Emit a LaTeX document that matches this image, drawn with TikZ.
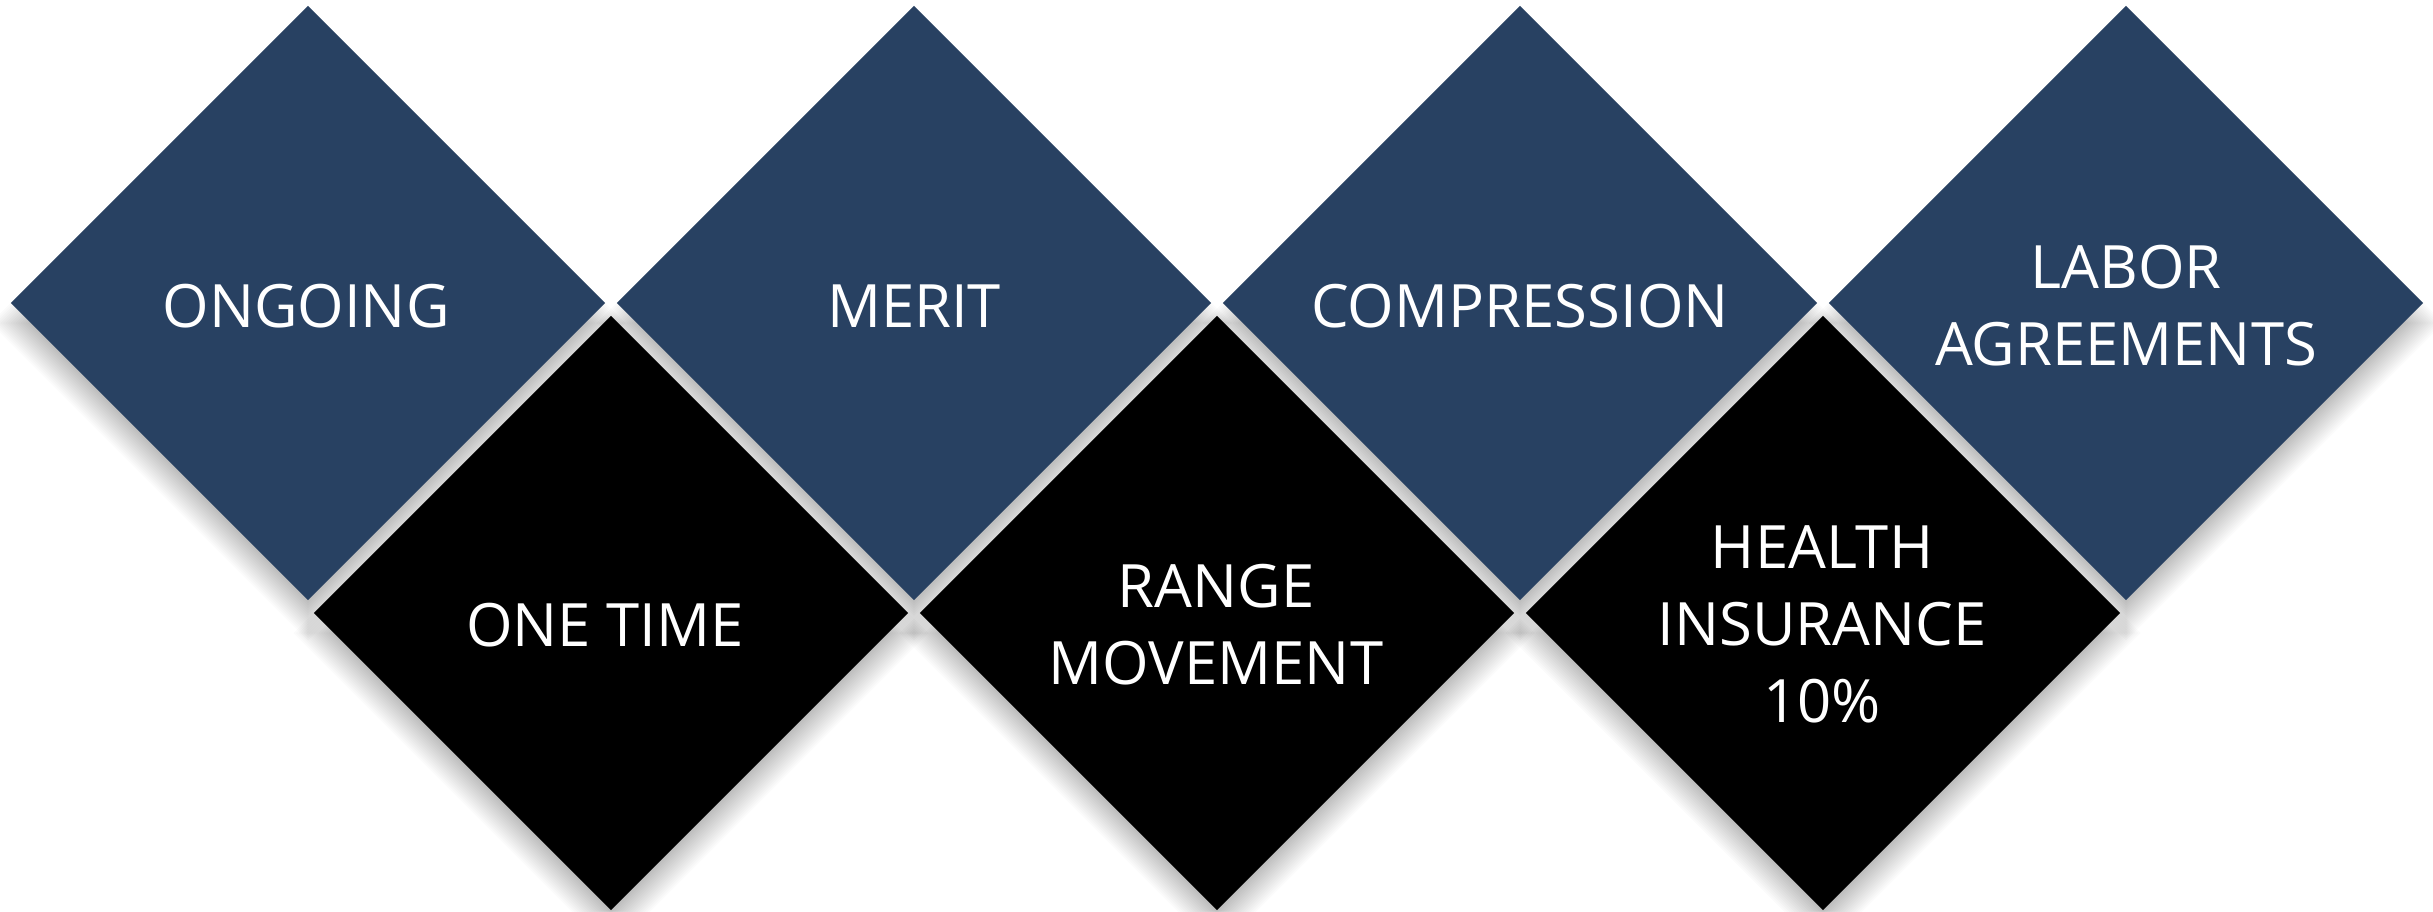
\documentclass[tikz,border=0pt]{standalone}
\usepackage{fontspec}
\setmainfont{Open Sans}
\usetikzlibrary{shapes.geometric}
\definecolor{navy}{RGB}{40,65,98}
\tikzset{
  tile/.style={shape=diamond, aspect=1, minimum width=5.94cm, minimum height=5.94cm, inner sep=0pt, outer sep=0pt, draw=none},
  bluetile/.style={tile, fill=navy},
  blacktile/.style={tile, fill=black},
  lbl/.style={text=white, align=center, inner sep=0pt, font=\fontsize{17}{21.9}\selectfont},
  shadowlayer/.style={fill=black, opacity=0.017}
}

\begin{document}

\begin{tikzpicture}[x=0.01cm,y=-0.01cm]
\useasboundingbox[fill=white] (0,0) rectangle (2433,911);
% soft shadows (offset downward, blurred by stacked layers)
\foreach \cx/\cy in {308/303,914/303,1520/303,2126/303,611/613,1217/613,1823/613}{
  \foreach \i in {0,...,19}{
    \pgfmathsetmacro{\h}{270+2.5*\i}
    \fill[shadowlayer] (\cx,\cy+20-\h) -- (\cx+\h,\cy+20) -- (\cx,\cy+20+\h) -- (\cx-\h,\cy+20) -- cycle;
  }
}
\node[bluetile] (b1) at (308,303) {};
\node[bluetile] (b2) at (914,303) {};
\node[bluetile] (b3) at (1520,303) {};
\node[bluetile] (b4) at (2126,303) {};
\node[blacktile] (k1) at (611,613) {};
\node[blacktile] (k2) at (1217,613) {};
\node[blacktile] (k3) at (1823,613) {};
\node[lbl] (t1) at (306,306) {ONGOING};
\node[lbl] (t2) at (914,306) {MERIT};
\node[lbl] (t3) at (1520,306) {COMPRESSION};
\node[lbl] (t4) at (2126,306) {LABOR\\AGREEMENTS};
\node[lbl] (t5) at (605,625) {ONE TIME};
\node[lbl] (t6) at (1216,625) {RANGE\\MOVEMENT};
\node[lbl] (t7) at (1822,624) {HEALTH\\INSURANCE\\10\%};
\end{tikzpicture}

\end{document}
